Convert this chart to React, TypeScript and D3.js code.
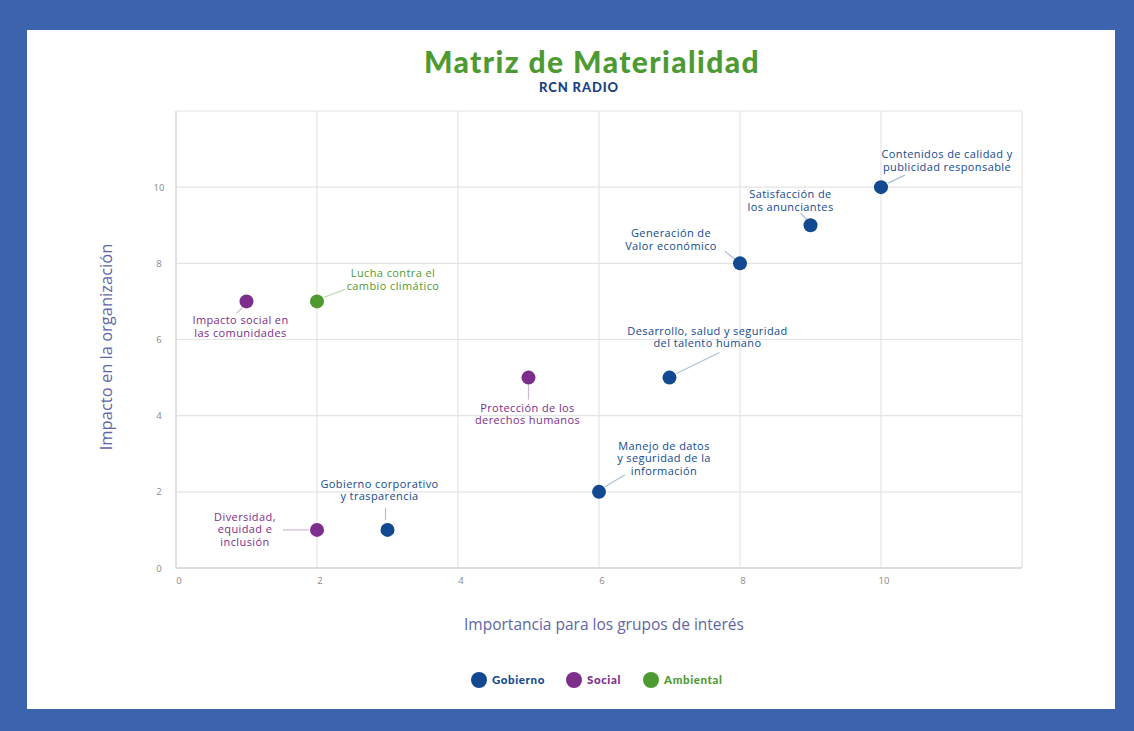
import React from "react";
import * as d3 from "d3";

const topics = [
  "Impacto social en|las comunidades",
  "Lucha contra el|cambio climático",
  "Diversidad,|equidad e|inclusión",
  "Gobierno corporativo|y trasparencia",
  "Protección de los|derechos humanos",
  "Manejo de datos|y seguridad de la|información",
  "Desarrollo, salud y seguridad|del talento humano",
  "Generación de|Valor económico",
  "Satisfacción de|los anunciantes",
  "Contenidos de calidad y|publicidad responsable",
];
const importancia = [1, 2, 2, 3, 5, 6, 7, 8, 9, 10];
const impacto = [7, 7, 1, 1, 5, 2, 5, 8, 9, 10];
const groups = ["Social", "Ambiental", "Social", "Gobierno", "Social", "Gobierno", "Gobierno", "Gobierno", "Gobierno", "Gobierno"];
const legendGroups = ["Gobierno", "Social", "Ambiental"];
const xTicks = [0, 2, 4, 6, 8, 10];
const yTicks = [0, 2, 4, 6, 8, 10];

// label layout (pixel offsets from point): label dx, first-baseline dy, connector start/end offsets
const labelLayout = [
  { dx: -6, dy: 23, l: [-4, 6, -10, 12] },
  { dx: 76, dy: -24, l: [7, -4, 28, -12] },
  { dx: -72, dy: -9, l: [-8, 0, -34, 0] },
  { dx: -8, dy: -42, l: [-2, -10, -2, -22] },
  { dx: -1, dy: 34, l: [0, 7, 0, 22] },
  { dx: 65, dy: -42, l: [6, -5, 26, -17] },
  { dx: 38, dy: -43, l: [7, -4, 50, -25] },
  { dx: -69, dy: -26, l: [-5, -4, -15, -12] },
  { dx: -20, dy: -27, l: [-3, -5, -10, -12] },
  { dx: 66, dy: -29, l: [7, -4, 24, -12] },
];

const colors: Record<string, string> = {
  Gobierno: "#124a92",
  Social: "#7d2e8c",
  Ambiental: "#4f9a30",
};

export default function App() {
  const W = 1134, H = 731;
  const x = d3.scaleLinear().domain([0, 12]).range([176, 1022]);
  const y = d3.scaleLinear().domain([0, 12]).range([568, 111]);
  const font = "'Open Sans', sans-serif";
  const gridX = d3.range(0, 13, 2);
  const gridY = d3.range(0, 13, 2);
  const legendX = [479, 574, 651];

  return (
    <svg width={W} height={H} style={{ position: "absolute", left: 0, top: 0, display: "block" }}>
      <rect x={0} y={0} width={W} height={H} fill="#3c63ad" />
      <rect x={27} y={30} width={1088} height={679} fill="#ffffff" />

      <text x={592} y={73} textAnchor="middle" fontFamily="Lato, sans-serif" fontWeight={900} fontSize={30} letterSpacing={1.4} fill="#4e9a32">
        Matriz de Materialidad
      </text>
      <text x={579} y={92} textAnchor="middle" fontFamily="Lato, sans-serif" fontWeight={900} fontSize={13} letterSpacing={0.9} fill="#1b3f86">
        RCN RADIO
      </text>

      {/* grid */}
      {gridX.map((v) => (
        <line key={"gx" + v} x1={x(v)} x2={x(v)} y1={y(12)} y2={y(0)} stroke="#e4e4e4" strokeWidth={1.2} />
      ))}
      {gridY.map((v) => (
        <line key={"gy" + v} x1={x(0)} x2={x(12)} y1={y(v)} y2={y(v)} stroke="#e4e4e4" strokeWidth={1.2} />
      ))}
      <line x1={x(0)} x2={x(12)} y1={y(0)} y2={y(0)} stroke="#d6d6d6" strokeWidth={1.5} />
      <line x1={x(0)} x2={x(0)} y1={y(12)} y2={y(0)} stroke="#dcdcdc" strokeWidth={1.5} />

      {xTicks.map((v) => (
        <text key={"xt" + v} x={x(v) + 3} y={584} textAnchor="middle" fontFamily={font} fontSize={9.5} fill="#8a8a8a">
          {v}
        </text>
      ))}
      {yTicks.map((v) => (
        <text key={"yt" + v} x={159} y={y(v) + 3.5} textAnchor="middle" fontFamily={font} fontSize={9.5} fill="#8a8a8a">
          {v}
        </text>
      ))}

      <text x={604} y={630} textAnchor="middle" fontFamily={font} fontSize={15.5} fill="#5f66a8">
        Importancia para los grupos de interés
      </text>
      <text transform={`translate(112,347) rotate(-90)`} textAnchor="middle" fontFamily={font} fontSize={16.5} fill="#5f66a8">
        Impacto en la organización
      </text>

      {/* connectors */}
      {topics.map((t, i) => {
        const px = x(importancia[i]), py = y(impacto[i]);
        const L = labelLayout[i].l;
        return (
          <line key={"c" + i} x1={px + L[0]} y1={py + L[1]} x2={px + L[2]} y2={py + L[3]}
            stroke={colors[groups[i]]} strokeOpacity={0.35} strokeWidth={1.2} />
        );
      })}

      {/* points */}
      {topics.map((t, i) => (
        <circle key={"p" + i} cx={x(importancia[i])} cy={y(impacto[i])} r={7} fill={colors[groups[i]]} />
      ))}

      {/* labels */}
      {topics.map((t, i) => {
        const px = x(importancia[i]), py = y(impacto[i]);
        const lay = labelLayout[i];
        return (
          <text key={"l" + i} x={px + lay.dx} y={py + lay.dy} textAnchor="middle" fontFamily={font} fontSize={11} letterSpacing={0.4} fill={colors[groups[i]]}>
            {t.split("|").map((line, j) => (
              <tspan key={j} x={px + lay.dx} dy={j === 0 ? 0 : 12.5}>{line}</tspan>
            ))}
          </text>
        );
      })}

      {/* legend */}
      {legendGroups.map((g, i) => (
        <g key={"lg" + g}>
          <circle cx={legendX[i]} cy={680} r={8} fill={colors[g]} />
          <text x={legendX[i] + 13} y={684} fontFamily="Lato, sans-serif" fontWeight={900} fontSize={11.5} letterSpacing={0.6} fill={colors[g]}>
            {g}
          </text>
        </g>
      ))}
    </svg>
  );
}
